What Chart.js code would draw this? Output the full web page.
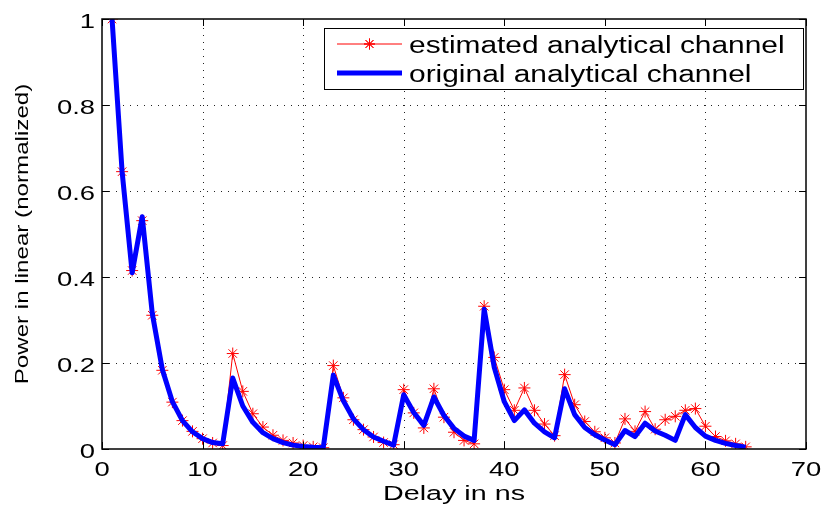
<!DOCTYPE html>
<html>
<head>
<meta charset="utf-8">
<script src="https://cdn.jsdelivr.net/npm/chart.js@4.4.1/dist/chart.umd.min.js"></script>
<style>
  html, body { margin: 0; padding: 0; background: #fff; }
  #wrap { width: 827px; height: 508px; }
</style>
</head>
<body>
<div id="wrap"><canvas id="powerChart" width="827" height="508"></canvas></div>
<script>
// delay axis (ns)
var delays = [1, 2, 3, 4, 5, 6, 7, 8, 9, 10, 11, 12, 13, 14, 15, 16, 17, 18, 19, 20,
    21, 22, 23, 24, 25, 26, 27, 28, 29, 30, 31, 32, 33, 34, 35, 36, 37, 38, 39, 40,
    41, 42, 43, 44, 45, 46, 47, 48, 49, 50, 51, 52, 53, 54, 55, 56, 57, 58, 59, 60,
    61, 62, 63, 64];

var estimated = [1.0, 0.645, 0.415, 0.531, 0.311, 0.183, 0.109, 0.066, 0.041, 0.024,
    0.014, 0.008, 0.222, 0.134, 0.082, 0.051, 0.032, 0.020, 0.014, 0.008,
    0.005, 0.003, 0.194, 0.119, 0.068, 0.045, 0.028, 0.015, 0.010, 0.138,
    0.084, 0.049, 0.140, 0.074, 0.039, 0.020, 0.012, 0.332, 0.213, 0.138,
    0.090, 0.142, 0.090, 0.058, 0.031, 0.173, 0.103, 0.064, 0.040, 0.026,
    0.014, 0.070, 0.041, 0.087, 0.046, 0.068, 0.076, 0.090, 0.094, 0.053,
    0.029, 0.019, 0.012, 0.005];

var original = [1.0, 0.645, 0.410, 0.540, 0.315, 0.185, 0.110, 0.066, 0.040, 0.024,
    0.015, 0.012, 0.165, 0.100, 0.062, 0.038, 0.024, 0.015, 0.009, 0.006,
    0.004, 0.003, 0.172, 0.112, 0.070, 0.045, 0.028, 0.018, 0.009, 0.126,
    0.085, 0.055, 0.121, 0.078, 0.048, 0.030, 0.020, 0.325, 0.190, 0.110,
    0.066, 0.091, 0.060, 0.040, 0.026, 0.140, 0.080, 0.050, 0.033, 0.021,
    0.010, 0.043, 0.029, 0.060, 0.042, 0.032, 0.020, 0.080, 0.050, 0.030,
    0.020, 0.013, 0.008, 0.004];

var xTicks = [0, 10, 20, 30, 40, 50, 60, 70];
var yTicks = [0, 0.2, 0.4, 0.6, 0.8, 1];
var yTickLabels = ['0', '0.2', '0.4', '0.6', '0.8', '1'];

var seriesNames = ['estimated analytical channel', 'original analytical channel'];
var xTitle = 'Delay in ns';
var yTitle = 'Power in linear (normalized)';

var FONT = '"Liberation Sans", Arial, Helvetica, sans-serif';

function pairs(xs, ys) {
    return xs.map(function(x, i) { return { x: x, y: ys[i] }; });
}

// text in the reference is drawn wide, so stretch along the baseline
function wideText(ctx, text, x, y, size, sx, align, angle) {
    ctx.save();
    ctx.translate(x, y);
    if (angle) ctx.rotate(angle);
    ctx.scale(sx, 1);
    ctx.font = size + 'px ' + FONT;
    ctx.fillStyle = '#000';
    ctx.textAlign = align;
    ctx.textBaseline = 'alphabetic';
    ctx.fillText(text, 0, 0);
    ctx.restore();
}

var matlabFrame = {
    id: 'matlabFrame',
    beforeDatasetsDraw: function(chart) {
        var ctx = chart.ctx, a = chart.chartArea;
        var xs = chart.scales.x, ys = chart.scales.y;
        ctx.save();
        ctx.strokeStyle = '#222';
        ctx.lineWidth = 1;
        ctx.setLineDash([1, 6]);
        xTicks.forEach(function(v) {
            if (v === xTicks[0] || v === xTicks[xTicks.length - 1]) return;
            var px = Math.round(xs.getPixelForValue(v)) + 0.5;
            ctx.beginPath(); ctx.moveTo(px, a.bottom); ctx.lineTo(px, a.top); ctx.stroke();
        });
        yTicks.forEach(function(v) {
            if (v === yTicks[0] || v === yTicks[yTicks.length - 1]) return;
            var py = Math.round(ys.getPixelForValue(v)) + 0.5;
            ctx.beginPath(); ctx.moveTo(a.left, py); ctx.lineTo(a.right, py); ctx.stroke();
        });
        ctx.restore();
    },
    afterDatasetsDraw: function(chart) {
        var ctx = chart.ctx, a = chart.chartArea;
        var xs = chart.scales.x, ys = chart.scales.y;
        var tl = 7;
        ctx.save();
        ctx.strokeStyle = '#000';
        ctx.lineWidth = 1.5;
        ctx.strokeRect(a.left, a.top, a.right - a.left, a.bottom - a.top);
        ctx.lineWidth = 1;
        ctx.beginPath();
        xTicks.forEach(function(v) {
            var px = Math.round(xs.getPixelForValue(v)) + 0.5;
            ctx.moveTo(px, a.bottom); ctx.lineTo(px, a.bottom - tl);
            ctx.moveTo(px, a.top); ctx.lineTo(px, a.top + tl);
        });
        yTicks.forEach(function(v) {
            var py = Math.round(ys.getPixelForValue(v)) + 0.5;
            ctx.moveTo(a.left, py); ctx.lineTo(a.left + tl, py);
            ctx.moveTo(a.right, py); ctx.lineTo(a.right - tl, py);
        });
        ctx.stroke();

        // tick labels
        xTicks.forEach(function(v) {
            wideText(ctx, String(v), xs.getPixelForValue(v), a.bottom + 27, 20, 1.37, 'center');
        });
        yTicks.forEach(function(v, i) {
            wideText(ctx, yTickLabels[i], a.left - 7, ys.getPixelForValue(v) + 9, 20, 1.37, 'right');
        });

        // axis titles
        wideText(ctx, xTitle, (a.left + a.right) / 2, 500, 20.5, 1.4, 'center');
        wideText(ctx, yTitle, 28, (a.top + a.bottom) / 2, 17.5, 1.38, 'center', -Math.PI / 2);

        // legend
        var lx = 324, ly = 28, lw = 479, lh = 61;
        ctx.fillStyle = '#fff';
        ctx.fillRect(lx, ly, lw, lh);
        ctx.strokeStyle = '#000';
        ctx.lineWidth = 1;
        ctx.strokeRect(lx + 0.5, ly + 0.5, lw, lh);

        var ds = chart.data.datasets;
        var rows = [44, 73];
        rows.forEach(function(ry, i) {
            ctx.beginPath();
            ctx.strokeStyle = ds[i].borderColor;
            ctx.lineWidth = ds[i].borderWidth;
            ctx.moveTo(337, ry); ctx.lineTo(402, ry);
            ctx.stroke();
            if (ds[i].pointRadius > 0) {
                ctx.lineWidth = 1;
                Chart.helpers.drawPoint(ctx, { pointStyle: 'star', radius: 5.5, borderWidth: 1 }, 369.5, ry);
                ctx.stroke();
            }
            wideText(ctx, seriesNames[i], 409, ry + 9, 23, 1.3, 'left');
        });
        ctx.restore();
    }
};

var ctx = document.getElementById('powerChart').getContext('2d');
new Chart(ctx, {
    type: 'line',
    data: {
        datasets: [{
            label: seriesNames[0],
            data: pairs(delays, estimated),
            order: 2,
            borderColor: '#ff0000',
            borderWidth: 1,
            pointStyle: 'star',
            pointRadius: 6,
            pointBorderColor: '#ff0000',
            pointBorderWidth: 1,
            pointBackgroundColor: '#ff0000',
            tension: 0,
            fill: false
        }, {
            label: seriesNames[1],
            data: pairs(delays, original),
            order: 1,
            borderColor: '#0000ff',
            borderWidth: 5,
            pointRadius: 0,
            tension: 0,
            fill: false,
            borderJoinStyle: 'round'
        }]
    },
    options: {
        responsive: false,
        animation: false,
        events: [],
        layout: { padding: { left: 102, top: 19, right: 21, bottom: 59 } },
        plugins: {
            legend: { display: false },
            tooltip: { enabled: false }
        },
        scales: {
            x: {
                type: 'linear',
                min: 0,
                max: 70,
                ticks: { display: false },
                grid: { display: false },
                border: { display: false },
                afterFit: function(s) { s.height = 0; }
            },
            y: {
                min: 0,
                max: 1,
                ticks: { display: false },
                grid: { display: false },
                border: { display: false },
                afterFit: function(s) { s.width = 0; }
            }
        }
    },
    plugins: [matlabFrame]
});
</script>
</body>
</html>
